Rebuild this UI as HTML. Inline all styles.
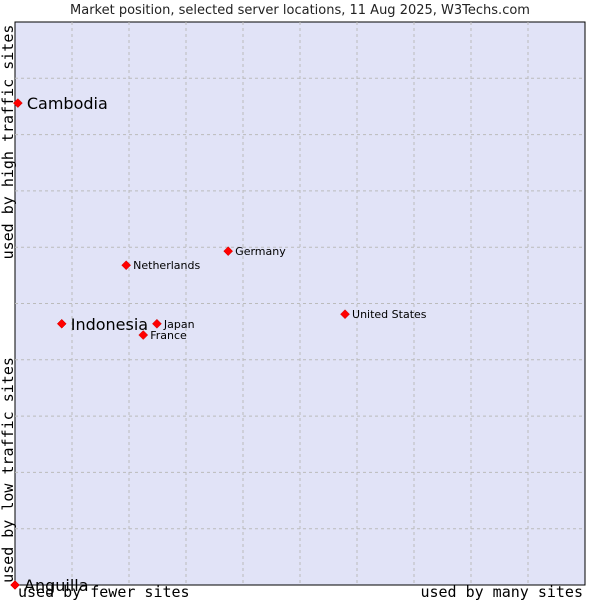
<!DOCTYPE html>
<html><head><meta charset="utf-8"><style>
body{margin:0;background:#fff;}
svg{display:block;}
</style></head><body>
<svg id="chart" width="600" height="600" xmlns="http://www.w3.org/2000/svg">
<text x="300" y="14" text-anchor="middle" font-family="DejaVu Sans, sans-serif" font-size="13" fill="#222">Market position, selected server locations, 11 Aug 2025, W3Techs.com</text>
<rect x="15" y="22" width="570" height="563" fill="#e1e3f7" stroke="#000" stroke-width="1"/>
<g id="grid"></g>
<text transform="translate(13,142) rotate(-90)" text-anchor="middle" font-family="DejaVu Sans Mono, monospace" font-size="15" fill="#000">used by high traffic sites</text>
<text transform="translate(13,470) rotate(-90)" text-anchor="middle" font-family="DejaVu Sans Mono, monospace" font-size="15" fill="#000">used by low traffic sites</text>
<text x="18" y="597" font-family="DejaVu Sans Mono, monospace" font-size="15" fill="#000">used by fewer sites</text>
<text x="583" y="597" text-anchor="end" font-family="DejaVu Sans Mono, monospace" font-size="15" fill="#000">used by many sites</text>
<g id="points"></g>
</svg>
<script>
const names=["Cambodia","Indonesia","Anguilla","Netherlands","Germany","Japan","France","United States"];
const xVals=[0.5,8.2,0,19.5,37.4,24.9,22.5,57.9];
const yVals=[85.6,46.4,0,56.8,59.3,46.4,44.4,48.1];
const highlighted=[true,true,true,false,false,false,false,false];
const NS="http://www.w3.org/2000/svg";
const L=15,T=22,W=570,H=563;
const sx=v=>L+v/100*W, sy=v=>T+H-v/100*H;
const grid=document.getElementById('grid');
for(let i=1;i<10;i++){
 const a=document.createElementNS(NS,'line');
 a.setAttribute('x1',sx(i*10));a.setAttribute('x2',sx(i*10));a.setAttribute('y1',T);a.setAttribute('y2',T+H);
 a.setAttribute('stroke','#bbbbbb');a.setAttribute('stroke-dasharray','3,3');
 
 
 grid.appendChild(a);
 const b=document.createElementNS(NS,'line');
 b.setAttribute('y1',sy(i*10));b.setAttribute('y2',sy(i*10));b.setAttribute('x1',L);b.setAttribute('x2',L+W);
 b.setAttribute('stroke','#bbbbbb');b.setAttribute('stroke-dasharray','3,3');
 
 
 grid.appendChild(b);
}
const pts=document.getElementById('points');
names.forEach((n,i)=>{
 const x=sx(xVals[i]),y=sy(yVals[i]);
 const d=document.createElementNS(NS,'path');
 d.setAttribute('d',`M${x-4.5},${y}L${x},${y-4.5}L${x+4.5},${y}L${x},${y+4.5}Z`);
 d.setAttribute('fill','#f00');d.setAttribute('stroke','#c00');d.setAttribute('stroke-width','0.5');
 
 
 pts.appendChild(d);
 const t=document.createElementNS(NS,'text');
 const big=highlighted[i];
 t.setAttribute('x',x+(big?9:7));t.setAttribute('y',y+(big?6:4));
 t.setAttribute('font-family','DejaVu Sans, sans-serif');
 t.setAttribute('font-size',big?16:11);t.setAttribute('fill','#000');
 t.textContent=n;
 
 
 pts.appendChild(t);
});
</script>
</body></html>
